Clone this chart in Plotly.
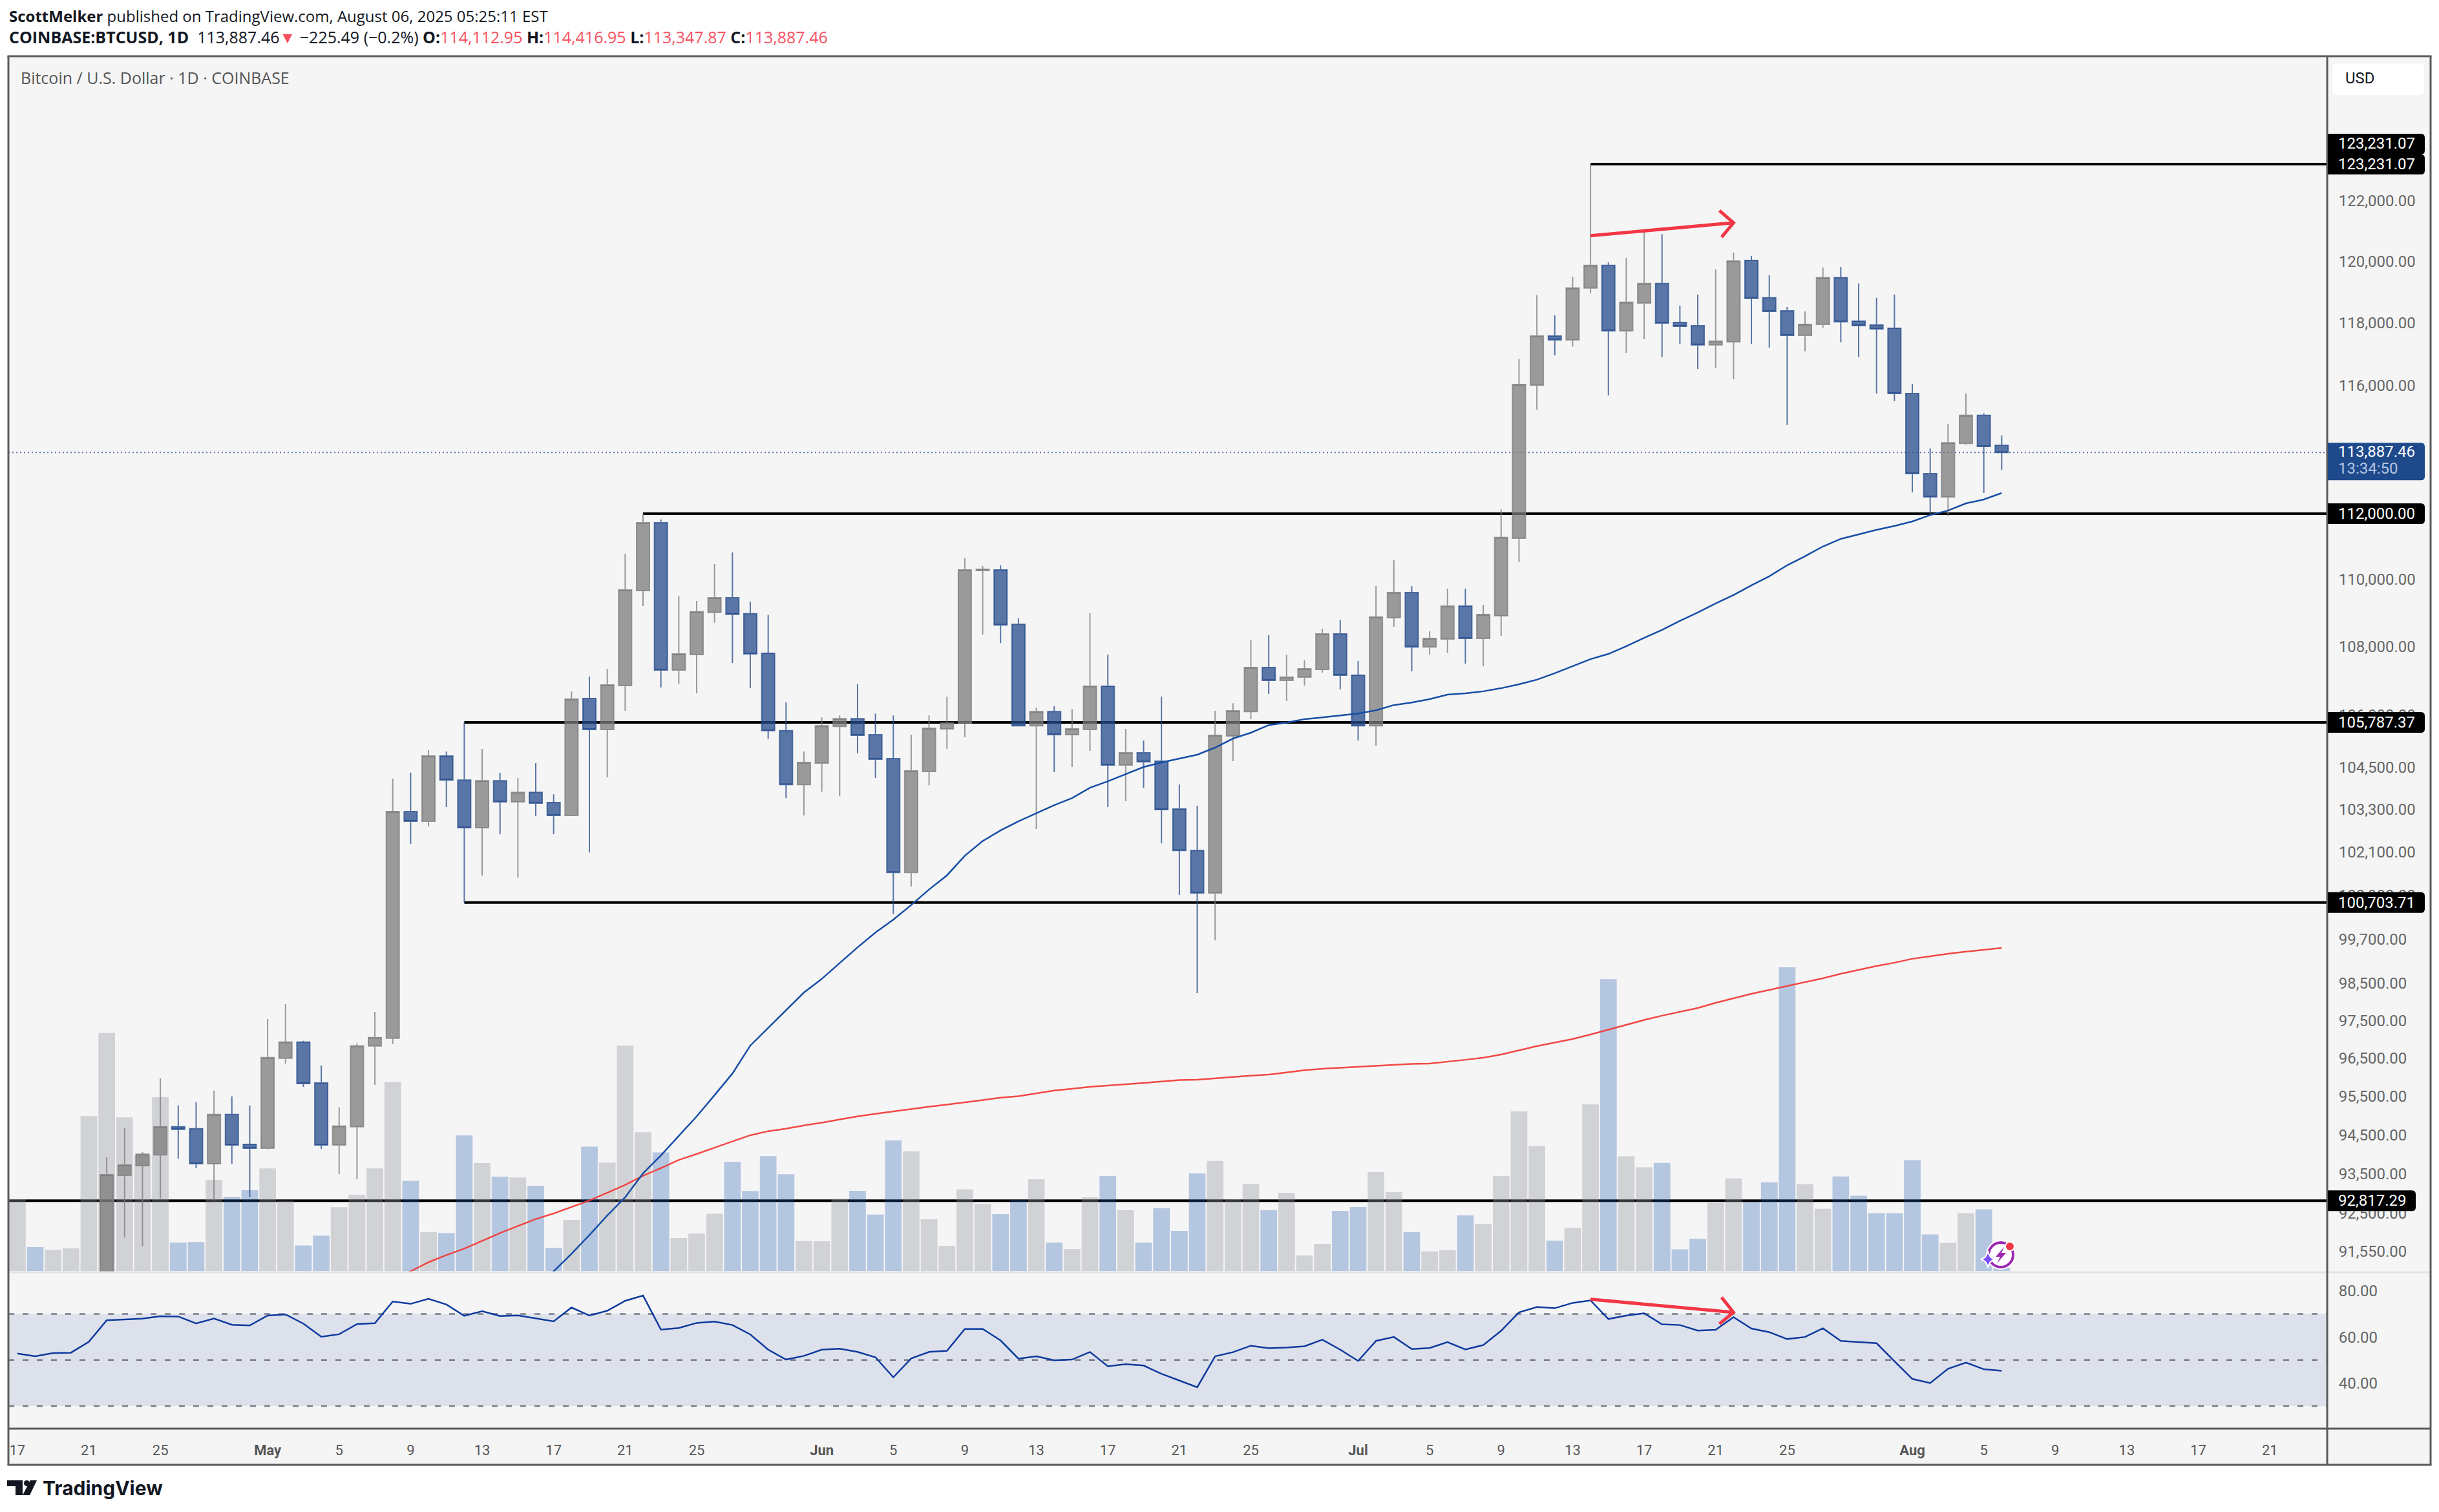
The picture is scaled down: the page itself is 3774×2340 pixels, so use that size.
import math

import pandas as pd
import plotly.graph_objects as go

WIDTH = 3774
HEIGHT = 2340

BG_COLOR = "#f5f5f5"
FRAME_COLOR = "#5a5a5a"
UP_COLOR = "rgba(123,123,123,0.75)"
DOWN_COLOR = "rgba(36,75,139,0.75)"
VOL_UP_COLOR = "rgba(146,148,158,0.37)"
VOL_DOWN_COLOR = "rgba(33,88,178,0.30)"
RED = "#f23645"
TICK_FONT = "Roboto"
TEXT_FONT = "Open Sans"

# every day on the chart, Apr 17 - Aug 6
days = pd.date_range("2025-04-17", "2025-08-06", freq="D")
# candles start on Apr 22, the earlier ones are below the visible price range
candle_days = pd.date_range("2025-04-22", "2025-08-06", freq="D")

opens = [
    87500, 93465, 93712, 93992, 94714, 94664, 93761, 95033, 94261,
    94160, 96504, 96932, 95856, 94244, 94714, 96829, 97035, 103239, 102966, 104820,
    104134, 102784, 104115, 103512, 103785, 103494, 103130, 106481, 105580, 106858, 109670,
    111722, 107311, 107766, 109016, 109458, 108978, 107804, 105547, 104004,
    104616, 105672, 105895, 105432, 104746, 101536, 104375, 105599, 105766, 110270,
    110289, 108660, 105690, 106098, 105432, 105580, 106839, 104560, 104912, 104671,
    103311, 102146, 100965, 105395, 106102, 107386, 107008, 107103, 107330, 108377,
    107160, 105690, 108860, 109611, 107992, 108224, 109206, 108243, 108918, 111252,
    116006, 117576, 117452, 119126, 119864, 117742, 118640, 119274, 118010, 117907,
    117287, 117390, 120030, 118810, 118389, 117597, 117949, 119462, 118053, 117928,
    117824, 115743, 113233, 112515, 114173, 115050, 114112.95,
]
highs = [
    93926, 94680, 94060, 95976, 95268, 95352, 95655, 95503, 95268,
    97549, 97943, 96967, 96315, 95218, 96898, 97738, 104171, 104342, 104987, 104950,
    105787.37, 105024, 104342, 104190, 104616, 103730, 106687, 107124, 107347, 110780, 112000,
    111820, 109514, 109360, 110468, 110820, 109340, 108939, 106368, 104950,
    105932, 105989, 106896, 106044, 105989, 105432, 105989, 106537, 110643, 110407,
    110427, 108841, 106214, 106252, 106176, 108997, 107766, 105599, 105265, 106537,
    104004, 103403, 106122, 106346, 108204, 108339, 107766, 107596, 108531, 108802,
    107577, 109805, 110584, 109805, 108455, 109728, 109728, 109245, 112135, 116835,
    118894, 118240, 119484, 123231.07, 119966, 120117, 120975, 120891, 118557, 118915,
    119734, 120290, 120180, 119546, 118515, 118368, 119798, 119820, 119274, 118810,
    118915, 116048, 114014, 114786, 115743, 115111, 114416.95,
]
lows = [
    87000, 91885, 91670, 92872, 93893, 93646, 92823, 93761, 92905,
    94126, 96367, 95755, 94143, 93497, 93366, 95805, 96881, 102328, 102820, 103365,
    100703.71, 101446, 102601, 101393, 103112, 102601, 103130, 102092, 104208, 106122, 109206,
    106801, 106896, 106632, 108707, 107520, 106782, 105305, 103620, 103130,
    103803, 103675, 104893, 104190, 100393, 101143, 103986, 105024, 105357, 108361,
    108106, 105690, 102746, 104356, 104504, 104968, 103365, 103530, 103913, 102346,
    100911, 98239, 99669, 104671, 105881, 106613, 106405, 106858, 107236, 106745,
    105265, 105117, 108590, 107273, 107766, 107822, 107501, 107425, 108320, 110525,
    115232, 116958, 117225, 118958, 115680, 117038, 117473, 116894, 117328, 116522,
    116563, 116192, 117328, 117204, 114746, 117080, 117845, 117370, 116894, 115743,
    115500, 112655, 111976, 111918, 114133, 112635, 113347.87,
]
closes = [
    93480, 93728, 94008, 94714, 94647, 93761, 95033, 94244, 94160,
    96521, 96932, 95839, 94244, 94731, 96829, 97052, 103239, 102966, 104820, 104134,
    102784, 104115, 103512, 103785, 103476, 103130, 106462, 105580, 106877, 109689, 111722,
    107311, 107786, 109036, 109458, 108959, 107786, 105547, 104004, 104635,
    105690, 105895, 105413, 104727, 101536, 104393, 105618, 105766, 110289, 110309,
    108640, 105690, 106098, 105432, 105599, 106839, 104560, 104912, 104653, 103293,
    102146, 100965, 105413, 106122, 107386, 107008, 107103, 107348, 108377, 107160,
    105690, 108879, 109611, 107992, 108243, 109206, 108243, 108956, 111272, 116026,
    117576, 117452, 119126, 119864, 117742, 118666, 119274, 117990, 117886, 117287,
    117411, 120007, 118789, 118368, 117597, 117949, 119462, 118032, 117907, 117804,
    115743, 113233, 112515, 114193, 115050, 114074, 113887.46,
]

# Apr 17 - Apr 21 volume colours, the candles of those days are out of view
early_up = [True, False, True, True, True]
volume = [
    4460, 1480, 1300, 1400, 9590, 14740, 9510, 7170, 10760, 1760, 1790, 5640, 4590, 5000,
    6350, 4360, 1580, 2190, 3950, 4720, 6350, 11700, 5580, 2400, 2350, 8390, 6680, 5840, 5790, 5280,
    1430, 3160, 7700, 6710, 13950, 8590, 7340, 2040, 2320, 3540, 6760, 4950, 7110, 5990, 1860,
    1840, 4480, 4960, 3490, 8080, 7410, 3200, 1560, 5050, 4160, 3520, 4410, 5680, 1760, 1360,
    4560, 5880, 3760, 1760, 3890, 2480, 6040, 6810, 4440, 5400, 3760, 4830, 960, 1680, 3720,
    3960, 6120, 4880, 2400, 1210, 1290, 3440, 2920, 5880, 9880, 7730, 1880, 2680, 10310, 18070,
    7100, 6420, 6690, 1340, 1990, 4210, 5730, 4290, 5490, 18800, 5370, 3850, 5850, 4660, 3580,
    3580, 6860, 2260, 1740, 3580, 3820, 200,
]

ma_fast_days = pd.date_range("2025-05-16", "2025-08-06", freq="D")
ma_fast = [
    90520, 91044, 91480, 91950, 92445, 92905, 93515, 93975, 94479, 94983, 95537, 96103, 96840,
    97306, 97786, 98256,
    98623, 99041, 99477, 99878, 100232, 100634, 101062, 101454, 102000, 102410, 102710, 102965,
    103185, 103420, 103620, 103913, 104097, 104300, 104504, 104635, 104746, 104857, 105060,
    105320, 105488, 105709, 105784, 105881, 105932, 105989,
    106044, 106138, 106290, 106365, 106462, 106594, 106632, 106690, 106780, 106896, 107030,
    107218, 107425, 107633, 107786, 108012, 108262, 108494, 108764, 109016, 109286, 109536,
    109826, 110098, 110431, 110705, 110999, 111231, 111369, 111506, 111624,
    111761, 111957, 112096, 112316, 112436, 112635,
]
ma_slow_days = pd.date_range("2025-05-08", "2025-08-06", freq="D")
ma_slow = [
    90800, 91044, 91270, 91450, 91610, 91805, 92000, 92180, 92355, 92495, 92660, 92825, 93020,
    93220, 93455, 93650, 93860, 94010, 94175, 94330, 94495, 94600, 94665, 94750,
    94820, 94905, 94985, 95050, 95115, 95175, 95235, 95290, 95350, 95420, 95470, 95510, 95585,
    95655, 95705, 95755, 95790, 95820, 95855, 95895, 95930, 95940, 95980, 96012, 96045, 96075,
    96130, 96190, 96230, 96255,
    96285, 96315, 96340, 96355, 96365, 96410, 96465, 96520, 96605, 96715, 96825, 96920, 97015,
    97135, 97265, 97395, 97520, 97635, 97740, 97840, 97978, 98099, 98220, 98325, 98430, 98535,
    98640, 98760, 98865, 98970, 99060,
    99165, 99235, 99305, 99360, 99410, 99460,
]

rsi = [
    52.8, 51.6, 53.0, 53.2, 57.9, 67.3, 67.6, 68.0, 69.0, 68.9, 65.9, 68.0, 65.3, 65.0,
    69.3, 69.8, 65.8, 60.1, 61.2, 65.6, 66.0, 75.4, 74.4, 76.6, 74.1, 69.2, 71.2, 69.1, 69.4, 68.2,
    66.8, 72.8, 69.3, 71.4, 75.7, 78.0, 63.2, 63.9, 66.1, 66.7, 65.2, 61.1, 54.5, 50.2, 51.8,
    54.5, 54.9, 53.5, 51.2, 42.5, 50.7, 53.5, 54.0, 63.5, 63.5, 58.5, 50.6, 51.6, 49.9, 50.2,
    53.5, 47.3, 48.2, 47.6, 44.0, 41.1, 38.2, 51.6, 53.4, 56.2, 55.1, 55.4, 56.0, 58.8, 54.5,
    49.6, 58.3, 60.0, 54.8, 55.2, 57.8, 54.6, 56.5, 62.7, 70.7, 73.0, 72.5, 74.8, 75.9, 67.8,
    69.3, 70.3, 65.5, 65.2, 62.8, 63.1, 68.6, 63.7, 62.1, 59.1, 60.0, 63.8, 58.3, 57.8, 57.3,
    49.5, 41.8, 40.0, 46.2, 48.9, 46.0, 45.3,
]

# horizontal levels: price, first day
level_prices = [123231.07, 112000.00, 105787.37, 100703.71, 92817.29]
level_starts = ["2025-07-14", "2025-05-22", "2025-05-12", "2025-05-12", "2025-04-16 12:00"]
last_price = 113887.46

price_ticks = [122000, 120000, 118000, 116000, 110000, 108000, 106000, 104500, 103300, 102100,
               100900, 99700, 98500, 97500, 96500, 95500, 94500, 93500, 92500, 91550]
rsi_ticks = [80, 60, 40]
rsi_bands = [70, 50, 30]

date_ticks = ["2025-04-17", "2025-04-21", "2025-04-25", "2025-05-01", "2025-05-05", "2025-05-09",
              "2025-05-13", "2025-05-17", "2025-05-21", "2025-05-25", "2025-06-01", "2025-06-05",
              "2025-06-09", "2025-06-13", "2025-06-17", "2025-06-21", "2025-06-25", "2025-07-01",
              "2025-07-05", "2025-07-09", "2025-07-13", "2025-07-17", "2025-07-21", "2025-07-25",
              "2025-08-01", "2025-08-05", "2025-08-09", "2025-08-13", "2025-08-17", "2025-08-21"]
date_labels = ["17", "21", "25", "<b>May</b>", "5", "9", "13", "17", "21", "25", "<b>Jun</b>", "5",
               "9", "13", "17", "21", "25", "<b>Jul</b>", "5", "9", "13", "17", "21", "25",
               "<b>Aug</b>", "5", "9", "13", "17", "21"]

# hand drawn arrows, price pane and rsi pane
arrow_days = ["2025-07-21 05:00", "2025-07-22", "2025-07-21 08:00", "2025-07-22", "2025-07-14"]
arrow_price = [121679, 121272, 120800, 121272, 120844]
arrow_rsi_days = ["2025-07-21 08:00", "2025-07-22", "2025-07-21 05:00", "2025-07-22", "2025-07-14"]
arrow_rsi = [77.2, 70.7, 65.7, 70.7, 76.4]

X_RANGE = ["2025-04-16 12:00", "2025-08-24 05:00"]
PRICE_RANGE = [math.log10(91020), math.log10(126922)]


def px(x):
    return x / WIDTH


def py(y):
    return 1 - y / HEIGHT


def rounded_rect(x0, y0, x1, y1, r):
    return (f"M{px(x0 + r)},{py(y0)} L{px(x1 - r)},{py(y0)} Q{px(x1)},{py(y0)} {px(x1)},{py(y0 + r)} "
            f"L{px(x1)},{py(y1 - r)} Q{px(x1)},{py(y1)} {px(x1 - r)},{py(y1)} "
            f"L{px(x0 + r)},{py(y1)} Q{px(x0)},{py(y1)} {px(x0)},{py(y1 - r)} "
            f"L{px(x0)},{py(y0 + r)} Q{px(x0)},{py(y0)} {px(x0 + r)},{py(y0)} Z")


def paper_line(x0, y0, x1, y1, color, width):
    return dict(type="line", xref="paper", yref="paper", x0=px(x0), x1=px(x1), y0=py(y0), y1=py(y1),
                line=dict(color=color, width=width), layer="above")


def price_box(price, right, up, down, color):
    # label on the price scale, follows the price through yanchor
    path = (f"M0,{up} L{right - 6},{up} Q{right},{up} {right},{up - 6} L{right},{-down + 6} "
            f"Q{right},{-down} {right - 6},{-down} L0,{-down} Z")
    return dict(type="path", xref="paper", yref="y", xsizemode="pixel", ysizemode="pixel",
                xanchor=px(3602), yanchor=price, path=path, fillcolor=color,
                line=dict(width=0), layer="above")


def price_text(text, price, color="white", yshift=0):
    return dict(text=text, xref="paper", yref="y", x=px(3616), y=math.log10(price), xanchor="left",
                yanchor="middle", showarrow=False, yshift=yshift,
                font=dict(family=TICK_FONT, size=24, color=color))


def page_text(text, x, y, size, color, family=TEXT_FONT):
    return dict(text=text, xref="paper", yref="paper", x=px(x), y=py(y), xanchor="left",
                yanchor="middle", showarrow=False, font=dict(family=family, size=size, color=color))


fig = go.Figure()

# levels go first so the bars and candles lie over them
for price, start in zip(level_prices, level_starts):
    fig.add_trace(go.Scatter(x=[start, X_RANGE[1]], y=[price, price], mode="lines", yaxis="y",
                             line=dict(color="black", width=4), hoverinfo="skip"))
fig.add_trace(go.Scatter(x=X_RANGE, y=[last_price, last_price], mode="lines", yaxis="y",
                         line=dict(color="#5875a5", width=2, dash="2px 4px"), hoverinfo="skip"))

vol_up = early_up + [c >= o for o, c in zip(opens, closes)]
fig.add_trace(go.Bar(x=days, y=volume, yaxis="y2", width=80300000, marker_line_width=0,
                     marker_color=[VOL_UP_COLOR if u else VOL_DOWN_COLOR for u in vol_up]))

fig.add_trace(go.Candlestick(x=candle_days, open=opens, high=highs, low=lows, close=closes, yaxis="y3",
                             whiskerwidth=0,
                             increasing=dict(fillcolor=UP_COLOR, line=dict(color=UP_COLOR, width=2)),
                             decreasing=dict(fillcolor=DOWN_COLOR, line=dict(color=DOWN_COLOR, width=2))))
fig.add_trace(go.Scatter(x=ma_slow_days, y=ma_slow, mode="lines", yaxis="y3",
                         line=dict(color="rgba(242,54,50,0.9)", width=2.5)))
fig.add_trace(go.Scatter(x=ma_fast_days, y=ma_fast, mode="lines", yaxis="y3",
                         line=dict(color="#174ea6", width=2.5)))
fig.add_trace(go.Scatter(x=arrow_days, y=arrow_price, mode="lines", yaxis="y3",
                         line=dict(color=RED, width=5)))

fig.add_trace(go.Scatter(x=days, y=rsi, mode="lines", yaxis="y4", line=dict(color="#0d3a9e", width=2.5)))
fig.add_trace(go.Scatter(x=arrow_rsi_days, y=arrow_rsi, mode="lines", yaxis="y4",
                         line=dict(color=RED, width=5)))

shapes = [
    # chart background
    dict(type="rect", xref="paper", yref="paper", x0=px(13), x1=px(3761), y0=py(87), y1=py(2267),
         fillcolor=BG_COLOR, line=dict(width=0), layer="below"),
    dict(type="rect", xref="paper", yref="y4", x0=px(13), x1=px(3601), y0=rsi_bands[2], y1=rsi_bands[0],
         fillcolor="#dde1ec", line=dict(width=0), layer="below"),
]
for band in rsi_bands:
    shapes.append(dict(type="line", xref="paper", yref="y4", x0=px(13), x1=px(3601), y0=band, y1=band,
                       line=dict(color="#787b86", width=2.5, dash="9px 13px"), layer="below"))

# frame
shapes += [
    paper_line(13, 1969, 3761, 1969, "#e0e3eb", 3),
    paper_line(13, 2211, 3761, 2211, FRAME_COLOR, 3),
    paper_line(3601, 87, 3601, 2267, FRAME_COLOR, 3),
    paper_line(11.5, 87, 3762.5, 87, FRAME_COLOR, 3),
    paper_line(11.5, 2267, 3762.5, 2267, FRAME_COLOR, 3),
    paper_line(13, 87, 13, 2267, FRAME_COLOR, 3),
    paper_line(3761, 87, 3761, 2267, FRAME_COLOR, 3),
]

# price scale labels
shapes += [
    price_box(level_prices[0], 150, 47, -15, "black"),
    price_box(level_prices[0], 150, 15, 16, "black"),
    price_box(level_prices[1], 150, 16, 16, "black"),
    price_box(level_prices[2], 150, 16, 16, "black"),
    price_box(level_prices[3], 150, 16, 16, "black"),
    price_box(level_prices[4], 136, 16, 16, "black"),
    price_box(last_price, 150, 15, 43, "#1e4a8c"),
    dict(type="path", xref="paper", yref="paper", path=rounded_rect(3608, 97, 3752, 148, 10),
         fillcolor="white", line=dict(color="#eeeeee", width=1), layer="above"),
]

# TradingView mark
shapes += [
    dict(type="path", xref="paper", yref="paper", fillcolor="#131722", line=dict(width=0), layer="above",
         path=f"M{px(11)},{py(2291)} L{px(35)},{py(2291)} L{px(35)},{py(2314)} L{px(24)},{py(2314)} "
              f"L{px(24)},{py(2300)} L{px(11)},{py(2300)} Z"),
    dict(type="circle", xref="paper", yref="paper", x0=px(37), x1=px(46), y0=py(2291), y1=py(2300),
         fillcolor="#131722", line=dict(width=0), layer="above"),
    dict(type="path", xref="paper", yref="paper", fillcolor="#131722", line=dict(width=0), layer="above",
         path=f"M{px(47)},{py(2291)} L{px(57)},{py(2291)} L{px(46)},{py(2314)} L{px(35)},{py(2314)} Z"),
]

# live badge near the last bar
shapes += [
    dict(type="circle", xref="paper", yref="paper", x0=px(3073), x1=px(3119), y0=py(1919), y1=py(1965),
         fillcolor="rgba(255,255,255,0.9)", line=dict(width=0), layer="above"),
    dict(type="circle", xref="paper", yref="paper", x0=px(3077), x1=px(3115), y0=py(1923), y1=py(1961),
         fillcolor="rgba(0,0,0,0)", line=dict(color="#9c27b0", width=4), layer="above"),
    dict(type="path", xref="paper", yref="paper", fillcolor="#9c27b0", line=dict(width=0), layer="above",
         path=f"M{px(3101)},{py(1930)} L{px(3088)},{py(1945)} L{px(3095)},{py(1945)} L{px(3090)},{py(1955)} "
              f"L{px(3104)},{py(1939)} L{px(3097)},{py(1939)} Z"),
    dict(type="circle", xref="paper", yref="paper", x0=px(3103), x1=px(3117), y0=py(1922), y1=py(1936),
         fillcolor=RED, line=dict(color="white", width=2), layer="above"),
    dict(type="path", xref="paper", yref="paper", fillcolor="#7c4dff", line=dict(color="white", width=2),
         layer="above",
         path=f"M{px(3076)},{py(1936)} Q{px(3078)},{py(1947)} {px(3087)},{py(1949)} "
              f"Q{px(3078)},{py(1951)} {px(3076)},{py(1962)} Q{px(3074)},{py(1951)} {px(3065)},{py(1949)} "
              f"Q{px(3074)},{py(1947)} {px(3076)},{py(1936)} Z"),
]

RED_TXT = "#f7525f"
header = ('<b>COINBASE:BTCUSD, 1D</b>  113,887.46<span style="color:%s">▼</span> −225.49 (−0.2%%) '
          '<b>O:</b><span style="color:%s">114,112.95</span> <b>H:</b><span style="color:%s">114,416.95</span> '
          '<b>L:</b><span style="color:%s">113,347.87</span> <b>C:</b><span style="color:%s">113,887.46</span>'
          % (RED_TXT, RED_TXT, RED_TXT, RED_TXT, RED_TXT))

annotations = [
    page_text("<b>ScottMelker</b> published on TradingView.com, August 06, 2025 05:25:11 EST", 12, 25, 24, "#131722"),
    page_text(header, 12, 57, 25, "#131722"),
    page_text("Bitcoin / U.S. Dollar · 1D · COINBASE", 30, 120, 25, "#555555"),
    page_text("<b>TradingView</b>", 64, 2303, 30, "#131722", family="Inter"),
    page_text("USD", 3627, 121, 24, "#131722", family=TICK_FONT),
    price_text("123,231.07", level_prices[0], yshift=32),
    price_text("123,231.07", level_prices[0]),
    price_text("112,000.00", level_prices[1]),
    price_text("105,787.37", level_prices[2]),
    price_text("100,703.71", level_prices[3]),
    price_text("92,817.29", level_prices[4]),
    price_text("113,887.46", last_price, yshift=1),
    price_text("13:34:50", last_price, color="#b4c4e0", yshift=-25),
]

fig.update_layout(
    width=WIDTH,
    height=HEIGHT,
    margin=dict(l=0, r=0, t=0, b=0),
    autosize=False,
    showlegend=False,
    hovermode=False,
    paper_bgcolor="white",
    plot_bgcolor="rgba(0,0,0,0)",
    boxgap=0.277,
    boxgroupgap=0,
    shapes=shapes,
    annotations=annotations,
    xaxis=dict(type="date", domain=[px(13), px(3601)], range=X_RANGE, anchor="y4", rangeslider=dict(visible=False),
               showgrid=False, zeroline=False, showline=False, tickmode="array", tickvals=date_ticks,
               ticktext=date_labels, ticks="outside", ticklen=14, tickcolor="rgba(0,0,0,0)",
               tickfont=dict(family=TICK_FONT, size=22, color="#555555")),
    yaxis=dict(type="log", domain=[py(1969), py(87)], range=PRICE_RANGE, anchor="x", side="right",
               showgrid=False, zeroline=False, showline=False, tickmode="array", tickvals=price_ticks,
               ticktext=[f"{t:,.2f}" for t in price_ticks], ticks="outside", ticklen=12,
               tickcolor="rgba(0,0,0,0)", tickfont=dict(family=TICK_FONT, size=24, color="#666666")),
    yaxis2=dict(domain=[py(1969), py(87)], overlaying="y", range=[-80, 75200], visible=False),
    yaxis3=dict(type="log", domain=[py(1969), py(87)], overlaying="y", range=PRICE_RANGE, visible=False),
    yaxis4=dict(domain=[py(2211), py(1969)], range=[20.2, 88.1], anchor="x", side="right",
                showgrid=False, zeroline=False, showline=False, tickmode="array", tickvals=rsi_ticks,
                ticktext=[f"{t:.2f}" for t in rsi_ticks], ticks="outside", ticklen=12,
                tickcolor="rgba(0,0,0,0)", tickfont=dict(family=TICK_FONT, size=24, color="#666666")),
)

# the page's default body margin would push the chart off its place
fig.write_html("out.html", config={"displayModeBar": False},
               post_script="document.body.style.margin = '0';")
